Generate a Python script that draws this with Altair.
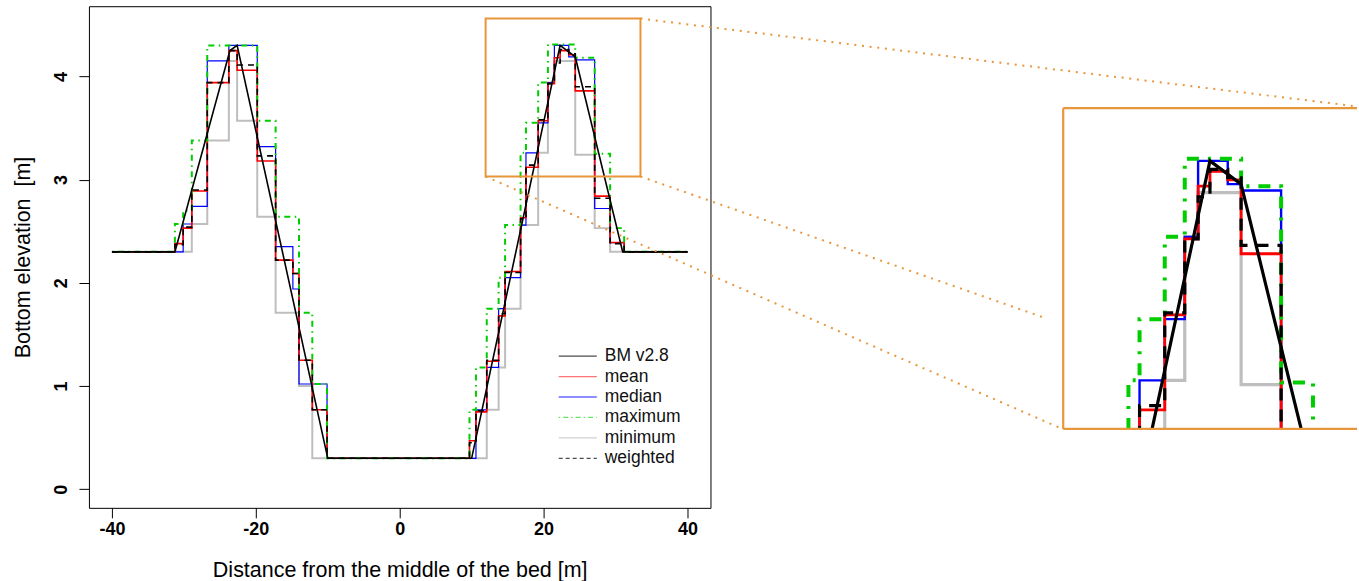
import altair as alt
import pandas as pd

# Cross-section mesh cell edges [m] (distance from the middle of the bed)
EDGES = [-40.0, -31.25, -30.1, -28.9, -26.75, -23.75, -22.6, -19.8, -17.25,
         -14.85, -14.0, -12.15, -10.1, 9.7, 10.6, 12.1, 13.75, 14.65, 16.8,
         17.55, 19.25, 20.6, 21.5, 22.3, 23.5, 24.4, 27.1, 29.25, 31.2, 40.0]

# Cell bottom elevation [m] for each aggregation method (one value per cell)
MEAN = [2.30, 2.38, 2.53, 2.89, 3.94, 4.25, 4.06, 3.18, 2.22, 2.09, 1.25, 0.77,
        0.30,
        0.47, 0.75, 1.24, 1.68, 2.11, 2.63, 3.12, 3.57, 3.93, 4.18, 4.25, 4.21, 3.86, 2.84, 2.39,
        2.30]
MEDIAN = [2.30, 2.30, 2.57, 2.74, 4.15, 4.30, 4.30, 3.32, 2.35, 1.94, 1.02, 1.02,
          0.30,
          0.30, 0.77, 1.18, 1.75, 2.05, 2.56, 3.26, 3.55, 3.94, 4.30, 4.30, 4.19, 4.16, 2.72, 2.39,
          2.30]
MAXIMUM = [2.30, 2.57, 2.70, 3.38, 4.30, 4.30, 4.30, 3.57, 2.64, 2.64, 1.71, 1.02,
           0.30,
           0.77, 1.18, 1.75, 2.05, 2.56, 3.26, 3.55, 3.94, 4.31, 4.31, 4.31, 4.31, 4.18, 3.25, 2.53,
           2.30]
MINIMUM = [2.30, 2.30, 2.30, 2.57, 3.38, 4.15, 3.57, 2.64, 1.71, 1.71, 1.00, 0.30,
           0.30,
           0.30, 0.30, 0.77, 1.18, 1.75, 2.56, 2.56, 3.26, 3.94, 4.15, 4.15, 4.15, 3.24, 2.53, 2.30,
           2.30]
WEIGHTED = [2.30, 2.37, 2.54, 2.90, 3.94, 4.25, 4.11, 3.23, 2.22, 2.09, 1.25, 0.77,
            0.30,
            0.45, 0.76, 1.25, 1.70, 2.10, 2.62, 3.14, 3.58, 3.93, 4.13, 4.26, 4.22, 3.90, 2.82, 2.38,
            2.30]

# BASEMENT v2.8 reference profile
BM_X = [-40.0, -31.25, -23.6, -22.6, -10.0, 10.0, 22.3, 24.4, 31.0, 40.0]
BM_Y = [2.30, 2.30, 4.25, 4.30, 0.30, 0.30, 4.30, 4.19, 2.30, 2.30]

LEGEND_LABELS = ["BM v2.8", "mean", "median", "maximum", "minimum", "weighted"]

# name -> (colour, main width, main dash, inset width, inset dash)
STYLE = {
    "BM v2.8": ("#000000", 1.6, None, 3.2, None),
    "mean": ("#FF0000", 1.6, None, 2.8, None),
    "median": ("#0000FF", 1.2, None, 2.4, None),
    "maximum": ("#00CD00", 2.0, [1.5, 4.5, 6, 4.5], 4.0, [3, 9, 12, 9]),
    "minimum": ("#BEBEBE", 2.0, None, 3.2, None),
    "weighted": ("#000000", 1.6, [6, 5], 3.2, [12, 9]),
}
STEP_SERIES = [("minimum", MINIMUM), ("median", MEDIAN), ("mean", MEAN),
               ("maximum", MAXIMUM), ("weighted", WEIGHTED)]

FONT = "Liberation Sans"
ORANGE = "#E8963C"

# zoom window drawn on the main plot, and the range shown in the enlarged view
ZOOM_X = (11.94, 33.47)
ZOOM_Y = (3.03, 4.56)
INSET_X = (12.4, 32.22)
INSET_Y = (3.03, 4.55)

# dotted connector ends (main-plot units, reaching over to the enlarged view)
CONNECTORS = [
    (ZOOM_X[1], ZOOM_Y[1], 133.06, 3.709),
    (ZOOM_X[1], ZOOM_Y[0], 89.44, 1.666),
    (ZOOM_X[0], ZOOM_Y[0], 92.22, 0.581),
]

# legend placement (main-plot units)
LEG_X0, LEG_X1, LEG_TX = 22.1, 27.4, 28.5
LEG_Y0, LEG_DY = 1.29, 0.198

X_TITLE = "Distance from the middle of the bed [m]"
Y_TITLE = "Bottom elevation\u00a0 [m]"

x_main = alt.Scale(domain=[-43.2, 43.2], nice=False, zero=False)
y_main = alt.Scale(domain=[-0.18, 4.68], nice=False, zero=False)
x_in = alt.Scale(domain=list(INSET_X), nice=False, zero=False)
y_in = alt.Scale(domain=list(INSET_Y), nice=False, zero=False)

X_AX = alt.Axis(values=[-40, -20, 0, 20, 40], grid=False, domain=False,
                tickSize=10, tickColor="black", tickWidth=1,
                labelExpr="'' + datum.value", labelFlush=False,
                labelFont=FONT, labelFontSize=18, labelFontWeight="bold",
                labelColor="black", labelPadding=3,
                titleFont=FONT, titleFontSize=21.5, titleFontWeight="normal",
                titleColor="black", titlePadding=21)
Y_AX = alt.Axis(values=[0, 1, 2, 3, 4], grid=False, domain=False,
                tickSize=10, tickColor="black", tickWidth=1,
                labelExpr="'' + datum.value", labelFlush=False,
                labelAngle=270, labelAlign="center", labelBaseline="bottom",
                labelFont=FONT, labelFontSize=18, labelFontWeight="bold",
                labelColor="black", labelPadding=8,
                titleFont=FONT, titleFontSize=21.5, titleFontWeight="normal",
                titleColor="black", titlePadding=18)


def mx(field):
    return alt.X(field, type="quantitative", scale=x_main, axis=X_AX, title=X_TITLE)


def my(field):
    return alt.Y(field, type="quantitative", scale=y_main, axis=Y_AX, title=Y_TITLE)


def ix(field):
    return alt.X(field, type="quantitative", scale=x_in, axis=None)


def iy(field):
    return alt.Y(field, type="quantitative", scale=y_in, axis=None)


def step_frame(values):
    return pd.DataFrame({"x": EDGES, "y": list(values) + [values[-1]]})


def line_layer(df, name, inset, step=True):
    color, w, dash, wi, dashi = STYLE[name]
    kw = dict(color=color, strokeWidth=wi if inset else w)
    d = dashi if inset else dash
    if d:
        kw["strokeDash"] = d
    if step:
        kw["interpolate"] = "step-after"
    if inset:
        kw["clip"] = True
        enc = dict(x=ix("x"), y=iy("y"))
    else:
        enc = dict(x=mx("x"), y=my("y"))
    return alt.Chart(df).mark_line(**kw).encode(**enc)


bm_df = pd.DataFrame({"x": BM_X, "y": BM_Y})
NO_FRAME = alt.ViewBackground(stroke="transparent", strokeOpacity=0)

# ---------------- main plot ----------------
main_layers = [line_layer(step_frame(v), n, False) for n, v in STEP_SERIES]
main_layers.append(line_layer(bm_df, "BM v2.8", False, step=False))

zoom_df = pd.DataFrame({"x0": [ZOOM_X[0]], "x1": [ZOOM_X[1]],
                        "y0": [ZOOM_Y[0]], "y1": [ZOOM_Y[1]]})
main_layers.append(
    alt.Chart(zoom_df).mark_rect(filled=False, stroke=ORANGE, strokeWidth=2)
    .encode(x=mx("x0"), x2="x1:Q", y=my("y0"), y2="y1:Q"))

conn_df = pd.DataFrame(CONNECTORS, columns=["x0", "y0", "x1", "y1"])
main_layers.append(
    alt.Chart(conn_df).mark_rule(color=ORANGE, strokeWidth=2,
                                 strokeDash=[2, 5.7])
    .encode(x=mx("x0"), y=my("y0"), x2="x1:Q", y2="y1:Q"))

# legend
LEG_STYLE = {
    "BM v2.8": ("#000000", None, 0.7),
    "mean": ("#FF0000", None, 0.55),
    "median": ("#0000FF", None, 0.6),
    "maximum": ("#00CD00", [1.5, 3, 5, 3], 0.6),
    "minimum": ("#BEBEBE", None, 0.7),
    "weighted": ("#000000", [4, 3], 0.7),
}
for i, lab in enumerate(LEGEND_LABELS):
    col, dash, op = LEG_STYLE[lab]
    row = pd.DataFrame({"x0": [LEG_X0], "x1": [LEG_X1], "y": [LEG_Y0 - i * LEG_DY]})
    kw = dict(color=col, strokeWidth=1.3, opacity=op)
    if dash:
        kw["strokeDash"] = dash
    main_layers.append(alt.Chart(row).mark_rule(**kw)
                       .encode(x=mx("x0"), x2="x1:Q", y=my("y")))

leg_text = pd.DataFrame({"x": [LEG_TX] * len(LEGEND_LABELS),
                         "y": [LEG_Y0 - i * LEG_DY for i in range(len(LEGEND_LABELS))],
                         "label": LEGEND_LABELS})
main_layers.append(
    alt.Chart(leg_text).mark_text(align="left", baseline="middle", font=FONT,
                                  fontSize=17.5, color="#111111")
    .encode(x=mx("x"), y=my("y"), text="label:N"))

main = alt.layer(*main_layers).properties(
    width=622, height=502,
    view=alt.ViewBackground(stroke="black", strokeWidth=1))

# ---------------- enlarged view ----------------
inset_layers = [line_layer(step_frame(v), n, True) for n, v in STEP_SERIES]
inset_layers.append(line_layer(bm_df, "BM v2.8", True, step=False))

frame = pd.DataFrame({
    "x0": [INSET_X[0], INSET_X[0], INSET_X[0]],
    "x1": [INSET_X[1], INSET_X[1], INSET_X[0]],
    "y0": [INSET_Y[1], INSET_Y[0], INSET_Y[0]],
    "y1": [INSET_Y[1], INSET_Y[0], INSET_Y[1]],
})
inset_layers.append(
    alt.Chart(frame).mark_rule(color=ORANGE, strokeWidth=2.2)
    .encode(x=ix("x0"), x2="x1:Q", y=iy("y0"), y2="y1:Q"))

inset = alt.layer(*inset_layers).properties(width=294, height=321, view=NO_FRAME)

spacer = alt.Chart(pd.DataFrame({"v": [0]})).mark_point(opacity=0).encode(
    x=alt.X("v:Q", axis=None), y=alt.Y("v:Q", axis=None)
).properties(width=294, height=102, view=NO_FRAME)

right = alt.vconcat(spacer, inset, spacing=0, bounds="flush")

chart = alt.hconcat(main, right, spacing=353, bounds="flush").resolve_scale(
    x="independent", y="independent"
).properties(
    padding={"left": 12, "top": 5, "right": 0, "bottom": 0}
).configure_view(stroke="transparent").configure(background="white")

chart.save("out.html", embed_options={"renderer": "svg", "actions": False})
